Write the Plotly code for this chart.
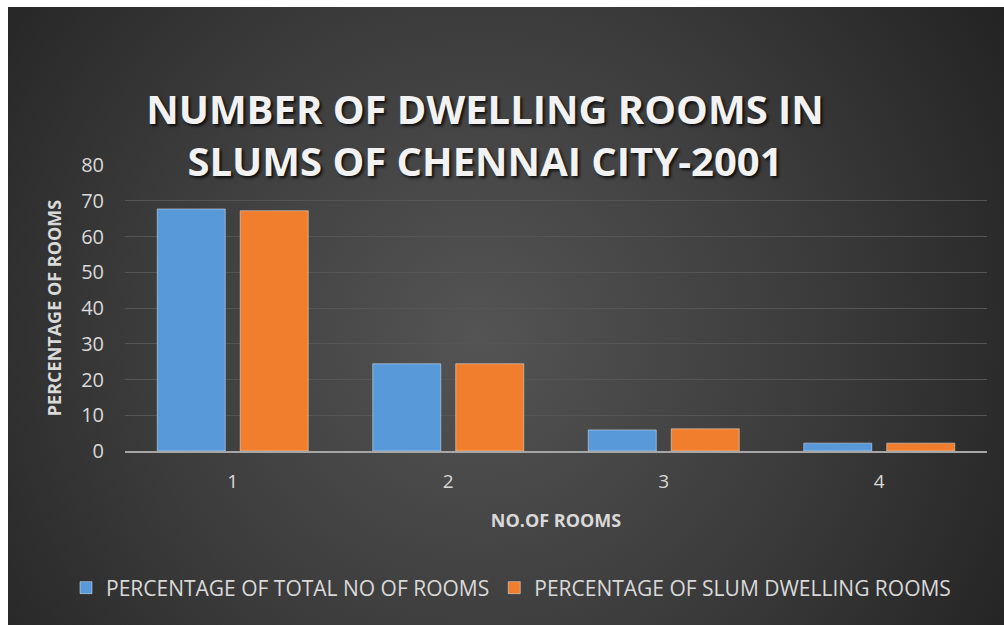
import plotly.graph_objects as go
import urllib.parse

categories = ["1", "2", "3", "4"]
total_rooms = [67.7, 24.4, 5.9, 2.2]
slum_rooms = [67.2, 24.4, 6.2, 2.2]
series_names = ["PERCENTAGE OF TOTAL NO OF ROOMS", "PERCENTAGE OF SLUM DWELLING ROOMS"]
y_ticks = [0, 10, 20, 30, 40, 50, 60, 70, 80]

W, H = 1004, 625
L, R, T, B = 125, 17, 165, 174
pw, ph = W - L - R, H - T - B

svg = f'''<svg xmlns="http://www.w3.org/2000/svg" width="{W-8}" height="{H-7}" viewBox="0 0 {W-8} {H-7}">
<defs><radialGradient id="g" gradientUnits="userSpaceOnUse" cx="470" cy="330" r="620">
<stop offset="0" stop-color="#545454"/><stop offset="0.55" stop-color="#3b3b3b"/><stop offset="1" stop-color="#232323"/>
</radialGradient></defs><rect width="100%" height="100%" fill="url(#g)"/></svg>'''
src = "data:image/svg+xml;charset=utf-8," + urllib.parse.quote(svg)

fig = go.Figure()
fig.add_trace(go.Bar(x=categories, y=total_rooms, name=series_names[0], marker=dict(color="#5799d9")))
fig.add_trace(go.Bar(x=categories, y=slum_rooms, name=series_names[1], marker=dict(color="#f07e2c")))

fig.update_layout(
    width=W, height=H,
    margin=dict(l=L, r=R, t=T, b=B, pad=0),
    paper_bgcolor="white",
    plot_bgcolor="rgba(0,0,0,0)",
    bargap=0.23, bargroupgap=0.18,
    images=[dict(source=src, xref="paper", yref="paper",
                 x=(8 - L) / pw, y=(H - B - 7) / ph,
                 sizex=(W - 8) / pw, sizey=(H - 7) / ph,
                 xanchor="left", yanchor="top", sizing="stretch", layer="below")],
    title=dict(text="NUMBER OF DWELLING ROOMS IN<br>SLUMS OF CHENNAI CITY-2001",
               x=485 / W, xanchor="center", xref="container",
               y=1 - 124 / H, yanchor="middle", yref="container",
               font=dict(family="Open Sans", size=40, color="#f2f2f2", weight="bold",
                         shadow="2px 2px 3px rgba(0,0,0,0.8)")),
    font=dict(family="Open Sans", color="#d9d9d9"),
    legend=dict(orientation="h", xref="paper", yref="paper",
                x=(66 - L) / pw, y=(H - B - 588) / ph, xanchor="left", yanchor="middle",
                font=dict(size=21, color="#d9d9d9"), bgcolor="rgba(0,0,0,0)",
                itemwidth=30, tracegroupgap=0),
    xaxis=dict(showgrid=False, ticks="", ticklabelstandoff=12,
               tickfont=dict(size=19, color="#d9d9d9"),
               title=dict(text="NO.OF ROOMS", standoff=22,
                          font=dict(size=18, color="#d9d9d9", weight="bold")),
               showline=True, linecolor="#a6a6a6", linewidth=2),
    yaxis=dict(range=[0, 80], tickvals=y_ticks, showgrid=True, gridcolor="#555555", gridwidth=1,
               zeroline=False, ticks="", ticklabelstandoff=20,
               tickfont=dict(size=20, color="#d9d9d9"),
               title=dict(text="PERCENTAGE OF ROOMS", standoff=14,
                          font=dict(size=18, color="#d9d9d9", weight="bold"))),
)

fig.write_html("out.html")
